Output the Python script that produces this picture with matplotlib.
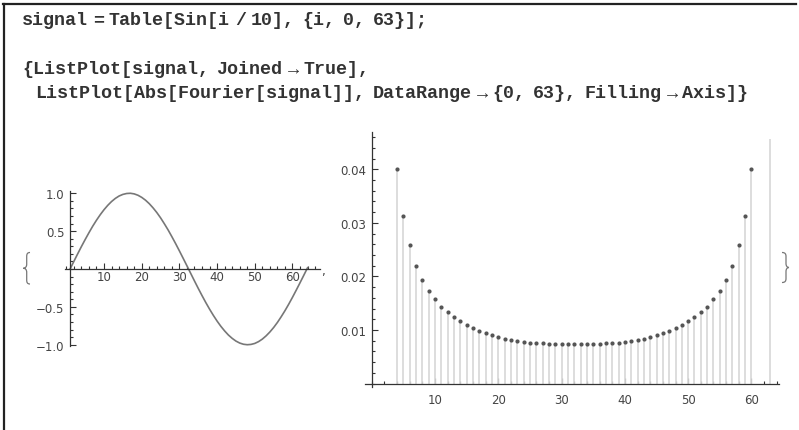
import matplotlib
matplotlib.use('Agg')
import matplotlib.pyplot as plt
import matplotlib.ticker as mticker
import matplotlib.transforms as mtransforms
from matplotlib.lines import Line2D
from matplotlib.path import Path
from matplotlib.patches import PathPatch
import numpy as np

# notebook input lines
code_lines = ["signal = Table[Sin[i / 10], {i, 0, 63}];",
              "{ListPlot[signal, Joined \u2192 True],",
              "ListPlot[Abs[Fourier[signal]], DataRange \u2192 {0, 63}, Filling \u2192 Axis]}"]

# signal, plotted at positions 1..64
signal = [0.000, 0.100, 0.199, 0.296, 0.389, 0.479, 0.565, 0.644, 0.717, 0.783,
          0.841, 0.891, 0.932, 0.964, 0.985, 0.997, 1.000, 0.992, 0.974, 0.946,
          0.909, 0.863, 0.808, 0.746, 0.676, 0.598, 0.516, 0.427, 0.335, 0.239,
          0.141, 0.042, -0.058, -0.158, -0.256, -0.351, -0.443, -0.530, -0.612, -0.688,
          -0.757, -0.818, -0.872, -0.916, -0.952, -0.978, -0.994, -1.000, -0.996, -0.983,
          -0.959, -0.926, -0.883, -0.832, -0.773, -0.706, -0.631, -0.551, -0.465, -0.374,
          -0.279, -0.182, -0.083, 0.017]
signal_x = np.arange(1, len(signal) + 1)

# |Fourier| points visible inside the plot range (x = 4 .. 60)
fourier_x = np.arange(4, 61)
fourier_y = [0.0400, 0.0313, 0.0259, 0.0220, 0.0193, 0.0172, 0.0157, 0.0143, 0.0133, 0.0124,
             0.0116, 0.0109, 0.0103, 0.0099, 0.0094, 0.0090, 0.0087, 0.0084, 0.0081, 0.0080,
             0.0078, 0.0076, 0.0075, 0.0075, 0.0074, 0.0073, 0.0073, 0.0073, 0.0073,
             0.0073, 0.0073, 0.0073, 0.0074, 0.0075, 0.0075, 0.0076, 0.0078, 0.0080, 0.0081,
             0.0084, 0.0087, 0.0090, 0.0094, 0.0099, 0.0103, 0.0109, 0.0116, 0.0124, 0.0133,
             0.0143, 0.0157, 0.0172, 0.0193, 0.0220, 0.0259, 0.0313, 0.0400]
# clipped filling line at the last sample
clip_x = [63]
clip_y = [0.0457]

W, H = 799, 431
fig = plt.figure(figsize=(W / 100, H / 100), dpi=100)
# pixel coords (origin top left) -> figure
px_trans = mtransforms.Affine2D().scale(1 / W, -1 / H).translate(0, 1) + fig.transFigure


def fx(px):
    return px / W


def fy(py):
    return 1 - py / H


# cell frame
fig.add_artist(Line2D([fx(3), fx(796)], [fy(4.5), fy(4.5)], color='#222', lw=1.6))
fig.add_artist(Line2D([fx(3.5), fx(3.5)], [fy(4.5), 0], color='#222', lw=1.6))

mono = ['Liberation Mono', 'DejaVu Sans Mono']
code_size = 13.2
char_w = 0.6 * code_size / 72 * 100  # monospace advance in px


def code_text(x0, base, line):
    # mathematica input: narrow automatic space around operators
    toks = line.split(' ')
    x = x0
    for i, t in enumerate(toks):
        fig.text(fx(x), fy(base), t, family=mono, weight='bold', fontsize=code_size,
                 color='#333', va='baseline')
        x += len(t) * char_w
        if i + 1 < len(toks):
            nxt = toks[i + 1]
            if t in ('=', '/', '\u2192') or nxt in ('=', '/', '\u2192'):
                x += 5
            else:
                x += 7.5


code_text(22, 25, code_lines[0])
code_text(22, 74.5, code_lines[1])
code_text(35, 98.5, code_lines[2])


def style_axes(ax, xcross, ycross, xpad):
    for s in ['top', 'right']:
        ax.spines[s].set_visible(False)
    ax.spines['left'].set_position(('data', xcross))
    ax.spines['bottom'].set_position(('data', ycross))
    for s in ['left', 'bottom']:
        ax.spines[s].set_color('#333')
        ax.spines[s].set_linewidth(0.9)
    ax.patch.set_alpha(0)
    ax.tick_params(which='both', direction='in', colors='#333', width=0.8)
    ax.tick_params(which='major', length=4, labelsize=8.5, labelcolor='#444')
    ax.tick_params(which='minor', length=2)
    ax.tick_params(axis='x', which='major', pad=xpad)
    ax.tick_params(axis='y', which='major', pad=4)


# left plot: the signal
ax1 = fig.add_axes([fx(65), fy(346.7), fx(255), 155 / H])
ax1.plot(signal_x, signal, color='#777', lw=1.2)
ax1.set_xlim(-0.35, 67.3)
ax1.set_ylim(-1.013, 1.034)
style_axes(ax1, 1, 0, 1)
ax1.set_xticks([10, 20, 30, 40, 50, 60])
ax1.xaxis.set_minor_locator(mticker.MultipleLocator(2))
ax1.set_yticks([-1.0, -0.5, 0.5, 1.0])
ax1.yaxis.set_major_formatter(mticker.FuncFormatter(lambda v, p: ('%.1f' % v).replace('-', '\u2212')))
ax1.yaxis.set_minor_locator(mticker.MultipleLocator(0.1))

# right plot: abs of fourier
ax2 = fig.add_axes([fx(365), fy(388.3), fx(414.3), 255 / H])
ax2.vlines(fourier_x, 0, fourier_y, color='#dadada', lw=1.3)
ax2.vlines(clip_x, 0, clip_y, color='#dadada', lw=1.3)
ax2.scatter(fourier_x, fourier_y, s=9, color='#555', zorder=3, linewidths=0)
ax2.set_xlim(-1.06, 64.4)
ax2.set_ylim(-0.0007, 0.0469)
style_axes(ax2, 0, 0, 7)
ax2.set_xticks([10, 20, 30, 40, 50, 60])
ax2.xaxis.set_minor_locator(mticker.MultipleLocator(2))
ax2.set_yticks([0.01, 0.02, 0.03, 0.04])
ax2.yaxis.set_major_formatter(mticker.FormatStrFormatter('%.2f'))
ax2.yaxis.set_minor_locator(mticker.MultipleLocator(0.002))


def brace(xmid, xend, xtip, top, bot):
    # thin curly brace; xend < xtip gives "}" , else "{"
    c = (top + bot) / 2
    verts = [(xend, top), (xmid + (xend - xmid) * 0.2, top), (xmid, top + 1.5), (xmid, top + 4),
             (xmid, c - 4),
             (xmid, c - 1.5), (xmid + (xtip - xmid) * 0.4, c), (xtip, c),
             (xmid + (xtip - xmid) * 0.4, c), (xmid, c + 1.5), (xmid, c + 4),
             (xmid, bot - 4),
             (xmid, bot - 1.5), (xmid + (xend - xmid) * 0.2, bot), (xend, bot)]
    codes = [Path.MOVETO, Path.CURVE4, Path.CURVE4, Path.CURVE4,
             Path.LINETO,
             Path.CURVE4, Path.CURVE4, Path.CURVE4,
             Path.CURVE4, Path.CURVE4, Path.CURVE4,
             Path.LINETO,
             Path.CURVE4, Path.CURVE4, Path.CURVE4]
    fig.add_artist(PathPatch(Path(verts, codes), transform=px_trans, fill=False,
                             edgecolor='#777', lw=0.9))


# list braces and separator
brace(26.7, 30, 23.3, 253.5, 285)
brace(786, 782, 789, 253.5, 283.5)
fig.text(fx(323), fy(272), ',', fontsize=8.5, color='#444', ha='center', va='center')

fig.savefig('out.png', dpi=100)
